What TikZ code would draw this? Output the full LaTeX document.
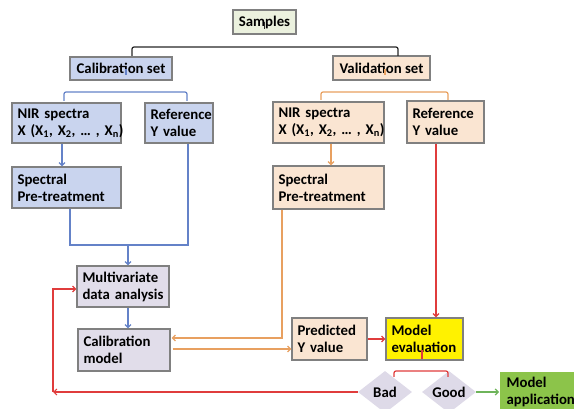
\documentclass[tikz,border=0pt]{standalone}
\usepackage{fontspec}
\setmainfont{Carlito}
\usetikzlibrary{arrows.meta,shapes.geometric,calc}
\definecolor{bordergray}{RGB}{128,128,128}
\definecolor{calfill}{RGB}{201,212,238}
\definecolor{valfill}{RGB}{250,229,210}
\definecolor{lavfill}{RGB}{225,221,234}
\definecolor{diafill}{RGB}{222,218,232}
\definecolor{samfill}{RGB}{235,241,222}
\definecolor{appfill}{RGB}{140,196,74}
\definecolor{blueline}{RGB}{100,130,200}
\definecolor{orangeline}{RGB}{232,160,96}
\definecolor{redline}{RGB}{224,60,60}
\definecolor{greenline}{RGB}{110,180,90}
\begin{document}
\begin{tikzpicture}[x=1pt,y=-1pt,
  every node/.style={font=\fontsize{14.8}{17}\selectfont\bfseries},
  box/.style={draw=bordergray,line width=1.2pt,inner xsep=5.5pt,inner ysep=1pt,align=left},
  cbox/.style={draw=bordergray,line width=1.2pt,inner sep=1pt,align=center},
  dia/.style={diamond,fill=diafill,inner sep=0pt,minimum width=54pt,minimum height=42pt,aspect=1.3},
  ln/.style={line width=1.2pt},
  arr/.style={ln,-{Straight Barb[length=3pt,width=6pt]}}
]
\useasboundingbox (0,0) rectangle (574,409);

% nodes
\node[cbox,fill=samfill,minimum width=63pt,minimum height=24pt] (samples) at (264.5,22) {Samples};
\node[cbox,fill=calfill,minimum width=102pt,minimum height=23pt] (calset) at (121,68.5) {Calibration set};
\node[cbox,fill=valfill,minimum width=97pt,minimum height=24pt] (valset) at (381.5,68) {Validation set};

\node[box,fill=calfill,text width=98pt,minimum height=40pt] (nirc) at (66.5,123) {NIR spectra\\\mbox{X (X\textsubscript{1}, X\textsubscript{2}, … , X\textsubscript{n})}};
\node[box,fill=calfill,text width=57pt,minimum height=40pt] (refc) at (179,123) {Reference\\Y value};
\node[box,fill=calfill,text width=98pt,minimum height=41pt] (spc) at (66.5,187.5) {Spectral\\Pre-treatment};

\node[box,fill=valfill,text width=100pt,minimum height=41pt] (nirv) at (328.5,122.5) {NIR spectra\\\mbox{X (X\textsubscript{1}, X\textsubscript{2}, … , X\textsubscript{n})}};
\node[box,fill=valfill,text width=66pt,minimum height=42pt] (refv) at (445.5,122) {Reference\\Y value};
\node[box,fill=valfill,text width=100pt,minimum height=43pt] (spv) at (328.5,187.5) {Spectral\\Pre-treatment};

\node[box,fill=lavfill,text width=81pt,minimum height=41pt] (multi) at (123,286.5) {Multivariate\\data analysis};
\node[box,fill=lavfill,text width=81pt,minimum height=42pt] (calm) at (124,350) {Calibration\\model};
\node[box,fill=valfill,text width=64pt,minimum height=42pt] (pred) at (329.5,339) {Predicted\\Y value};
\node[box,fill=yellow,text width=66pt,minimum height=42pt] (eval) at (424.5,339) {Model\\evaluation};

\node[dia] (bad) at (385,392) {Bad};
\node[dia] (good) at (449,392) {Good};
\node[box,draw=none,fill=appfill,text width=72pt,minimum height=41pt,anchor=north west,inner xsep=7pt] (app) at (499,371) {Model\\application};

% braces
\coordinate (sbc) at ($(samples.south)+(0,-6)$);
\draw[ln,black!85,rounded corners=2pt] (132,56) -- (132,47) -- (398,47) -- (398,56);
\draw[ln,black!85] (sbc) -- ++(0,-7);

\coordinate (cbc) at ($(calset.south)+(5,-6)$);
\draw[ln,blueline,rounded corners=2pt] (64,101) -- (64,92) -- (187,92) -- (187,101);
\draw[ln,blueline] (cbc) -- ++(0,-6);

\coordinate (vbc) at ($(valset.south)+(3.5,-6)$);
\draw[ln,orangeline,rounded corners=2pt] (321,100) -- (321,92) -- (448,92) -- (448,100);
\draw[ln,orangeline] (vbc) -- ++(0,-6);

\coordinate (ebc) at ($(eval.south)+(-2.5,-2)$);
\draw[ln,redline,rounded corners=2pt] (394,377) -- (394,371) -- (448,371) -- (448,377);
\draw[ln,redline] (ebc) -- ++(0,-9);

% blue connectors
\draw[arr,blueline] ([xshift=-4.5pt]nirc.south) -- ([xshift=-4.5pt]spc.north);
\coordinate (mj) at (128,245);
\draw[ln,blueline] ([xshift=3.5pt]spc.south) |- (mj);
\draw[ln,blueline] ([xshift=9pt]refc.south) |- (mj);
\draw[arr,blueline] (mj) -- (mj |- multi.north);
\draw[arr,blueline] ([xshift=5pt]multi.south) -- ([xshift=5pt]multi.south |- calm.north);

% orange connectors
\draw[arr,orangeline] ([xshift=2.5pt]nirv.south) -- ([xshift=2.5pt]spv.north);
\draw[arr,orangeline,shorten >=1pt] ([xshift=-46.5pt]spv.south) |- ([yshift=12pt]calm.east);
\draw[arr,orangeline,shorten <=2pt] ([yshift=-10pt]pred.west -| calm.east) -- ([yshift=-10pt]pred.west);

% red connectors
\coordinate (rv) at ([xshift=-9.5pt]refv.south);
\draw[arr,redline] (rv) -- (rv |- eval.north);
\draw[arr,redline] (pred) -- (eval);
\coordinate (corner) at (53,392);
\draw[arr,redline] (bad.west) -- (corner);
\draw[arr,redline] (corner) |- ([yshift=-2.5pt]multi.west);

% green connector
\draw[arr,greenline] (good.east) -- (good.east -| app.west);
\end{tikzpicture}
\end{document}
